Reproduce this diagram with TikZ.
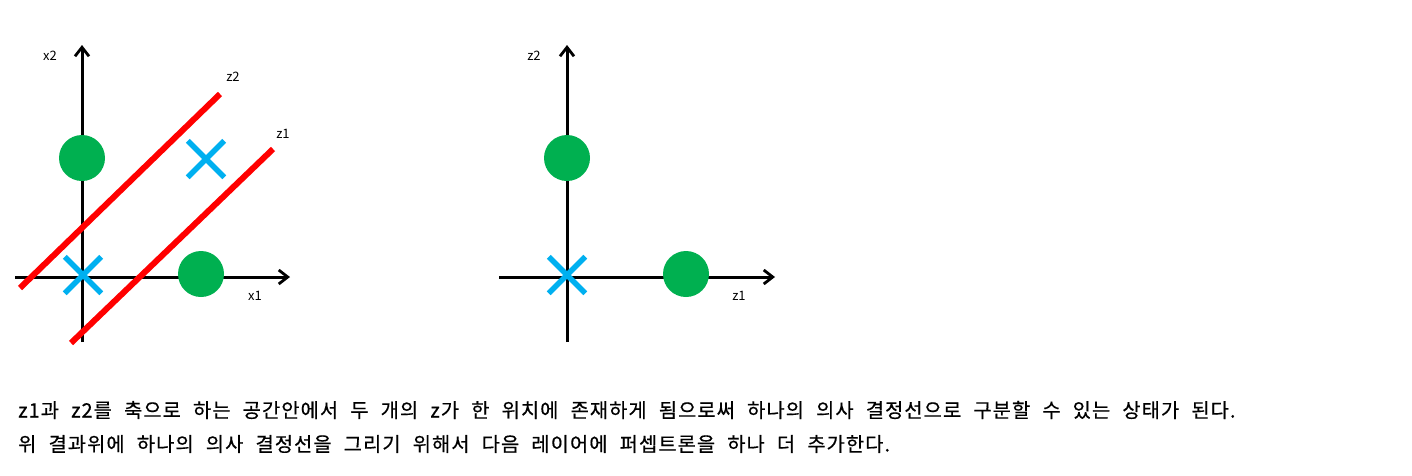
\documentclass[tikz,border=0pt]{standalone}
\usepackage{fontspec}
\setmainfont{Noto Sans CJK KR}
\newfontfamily\notefont[LetterSpace=5.5,WordSpace=2.2,FakeBold=0.5]{Noto Sans CJK KR}
\usetikzlibrary{arrows.meta, positioning, shapes.misc}
\definecolor{ptgreen}{HTML}{00B050}
\definecolor{ptblue}{HTML}{00B0F0}
\tikzset{axis/.style={line width=3pt,-{Straight Barb[length=9pt,width=14pt,line width=2.8pt]}},
  onept/.style={circle,fill=ptgreen,inner sep=0pt,minimum size=46pt},
  zeropt/.style={cross out,draw=ptblue,line width=5.5pt,inner sep=0pt,minimum size=31pt},
  boundary/.style={draw=red,line width=6pt},
  lbl/.style={font=\fontsize{13}{15}\selectfont,inner sep=0pt},
  note/.style={anchor=west,inner sep=0pt,font=\notefont\fontsize{19.8}{24}\selectfont}}

\begin{document}
\begin{tikzpicture}[x=1pt,y=-1pt]
\useasboundingbox (0,0) rectangle (1412,475);
% input space x1, x2
\coordinate (xo) at (15,277);
\coordinate (xe) at (290,277);
\coordinate (yo) at (82,342);
\coordinate (ye) at (82,45);
\draw[axis] (xo) -- (xe);
\draw[axis] (yo) -- (ye);
\node[lbl] (x1) at (255,296) {x1};
\node[lbl] (x2) at (50,56) {x2};
\coordinate (z2a) at (20,288);
\coordinate (z2b) at (220,94);
\coordinate (z1a) at (71,343);
\coordinate (z1b) at (273,149);
\draw[boundary] (z2a) -- (z2b);
\draw[boundary] (z1a) -- (z1b);
\node[lbl] (z2) at (233,77) {z2};
\node[lbl] (z1) at (283,134) {z1};
\node[onept] (p01) at (82,158) {};
\node[onept] (p10) at (201,274) {};
\node[zeropt] (p00) at (83,275) {};
\node[zeropt] (p11) at (206,159) {};
% hidden space z1, z2
\coordinate (zxo) at (499,277);
\coordinate (zxe) at (775,277);
\coordinate (zyo) at (567,342);
\coordinate (zye) at (567,45);
\draw[axis] (zxo) -- (zxe);
\draw[axis] (zyo) -- (zye);
\node[lbl] (h1) at (739,296) {z1};
\node[lbl] (h2) at (534,56) {z2};
\node[onept] (q01) at (567,158) {};
\node[onept] (q10) at (686,274) {};
\node[zeropt] (q00) at (567,275) {};
% text
\node[note] (t1) at (18,410) {z1과 z2를 축으로 하는 공간안에서 두 개의 z가 한 위치에 존재하게 됨으로써 하나의 의사 결정선으로 구분할 수 있는 상태가 된다.};
\node[note] (t2) at (18,444) {위 결과위에 하나의 의사 결정선을 그리기 위해서 다음 레이어에 퍼셉트론을 하나 더 추가한다.};
\end{tikzpicture}
\end{document}
